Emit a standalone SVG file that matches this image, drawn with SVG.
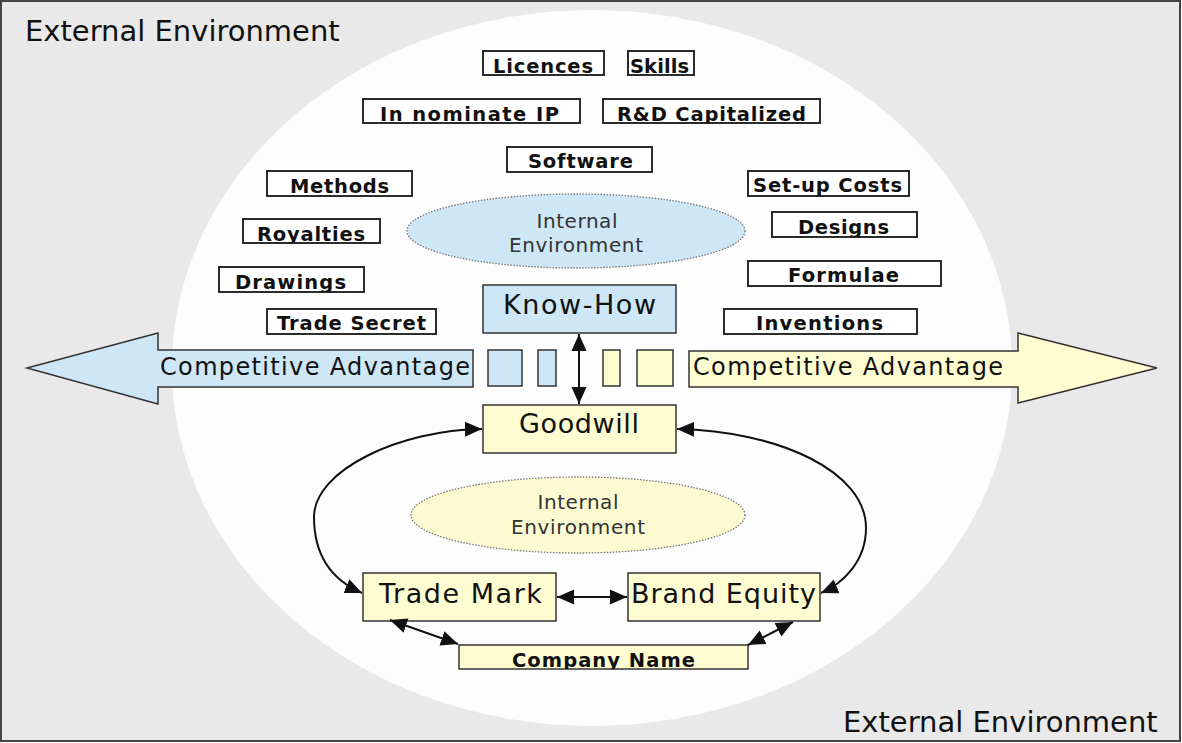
<svg xmlns="http://www.w3.org/2000/svg" width="1182" height="743" viewBox="0 0 1182 743">
<style>
.box{fill:#ffffff;stroke:#222;stroke-width:1.9}
.lbl{font-family:"DejaVu Sans",Verdana,sans-serif;font-weight:bold;font-size:19.5px;fill:#111}
.big{font-family:"DejaVu Sans",Verdana,sans-serif;font-size:27px;fill:#111}
.ext{font-family:"DejaVu Sans",Verdana,sans-serif;font-size:29px;fill:#111}
.int{font-family:"DejaVu Sans",Verdana,sans-serif;font-size:20px;fill:#333}
.ca{font-family:"DejaVu Sans",Verdana,sans-serif;font-size:24px;fill:#111}
.blue{fill:#cde7f7;stroke:#333;stroke-width:1.5}
.yel{fill:#fefdd2;stroke:#333;stroke-width:1.5}
.oval{stroke:#777;stroke-width:1.3;stroke-dasharray:1.5 1.5}
.con{fill:none;stroke:#111;stroke-width:2}
</style>
<defs>
<marker id="ah" markerUnits="userSpaceOnUse" markerWidth="18" markerHeight="16" refX="17" refY="8" orient="auto-start-reverse" viewBox="0 0 18 16">
<path d="M0,0.5 L17,8 L0,15.5 z" fill="#111"/>
</marker>
<clipPath id="boxclip">
<rect x="483" y="51" width="121" height="24"/>
<rect x="628" y="51" width="66" height="24"/>
<rect x="363" y="99" width="217" height="24"/>
<rect x="603" y="99" width="217" height="24"/>
<rect x="507" y="147" width="145" height="25"/>
<rect x="267" y="171" width="145" height="25"/>
<rect x="243" y="219" width="137" height="24"/>
<rect x="219" y="267" width="145" height="25"/>
<rect x="267" y="309" width="169" height="25"/>
<rect x="748" y="171" width="161" height="25"/>
<rect x="772" y="212" width="145" height="25"/>
<rect x="748" y="261" width="193" height="25"/>
<rect x="724" y="309" width="193" height="25"/>
<rect x="459" y="645" width="289" height="24"/>
</clipPath>
</defs>

<g id="background">
<rect x="1" y="1" width="1179" height="740" fill="#e9e9e9" stroke="#444" stroke-width="2"/>
<ellipse cx="592" cy="368" rx="420" ry="358" fill="#fdfdfd"/>
<text class="ext" x="25" y="41">External Environment</text>
<text class="ext" x="843" y="732">External Environment</text>
</g>

<g id="ovals">
<g id="internal-top">
<ellipse class="oval" cx="576" cy="231" rx="169" ry="37" fill="#cde7f7"/>
<text class="int" x="577" y="228" text-anchor="middle" textLength="81">Internal</text>
<text class="int" x="576" y="252" text-anchor="middle" textLength="134">Environment</text>
</g>
<g id="internal-bottom">
<ellipse class="oval" cx="578" cy="515" rx="167" ry="38" fill="#fdfbd2"/>
<text class="int" x="578" y="509" text-anchor="middle" textLength="81">Internal</text>
<text class="int" x="578" y="534" text-anchor="middle" textLength="134">Environment</text>
</g>
</g>

<g id="arrows-ca">
<g id="ca-left">
<polygon class="blue" points="27,368 158,333 158,350 473,350 473,387 158,387 158,404"/>
<text class="ca" x="160" y="375" textLength="310">Competitive Advantage</text>
</g>
<g id="ca-right">
<polygon class="yel" points="1157,368 1018,333 1018,351 689,351 689,387 1018,387 1018,403"/>
<text class="ca" x="693" y="375" textLength="310">Competitive Advantage</text>
</g>
<g id="squares">
<rect class="blue" x="488" y="350" width="34" height="36"/>
<rect class="blue" x="538" y="350" width="18" height="36"/>
<rect class="yel" x="603" y="350" width="17" height="36"/>
<rect class="yel" x="637" y="350" width="36" height="36"/>
</g>
</g>

<g id="items">
<g id="licences"><rect class="box" x="483" y="51" width="121" height="24"/><text class="lbl" x="493" y="73" textLength="100" clip-path="url(#boxclip)">Licences</text></g>
<g id="skills"><rect class="box" x="628" y="51" width="66" height="24"/><text class="lbl" x="630" y="73" textLength="59" clip-path="url(#boxclip)">Skills</text></g>
<g id="in-nominate-ip"><rect class="box" x="363" y="99" width="217" height="24"/><text class="lbl" x="380" y="121" textLength="179" clip-path="url(#boxclip)">In nominate IP</text></g>
<g id="rd-capitalized"><rect class="box" x="603" y="99" width="217" height="24"/><text class="lbl" x="617" y="121" textLength="189" clip-path="url(#boxclip)">R&amp;D Capitalized</text></g>
<g id="software"><rect class="box" x="507" y="147" width="145" height="25"/><text class="lbl" x="528" y="168" textLength="105" clip-path="url(#boxclip)">Software</text></g>
<g id="methods"><rect class="box" x="267" y="171" width="145" height="25"/><text class="lbl" x="290" y="193" textLength="99" clip-path="url(#boxclip)">Methods</text></g>
<g id="royalties"><rect class="box" x="243" y="219" width="137" height="24"/><text class="lbl" x="257" y="241" textLength="108" clip-path="url(#boxclip)">Royalties</text></g>
<g id="drawings"><rect class="box" x="219" y="267" width="145" height="25"/><text class="lbl" x="235" y="289" textLength="111" clip-path="url(#boxclip)">Drawings</text></g>
<g id="trade-secret"><rect class="box" x="267" y="309" width="169" height="25"/><text class="lbl" x="277" y="330" textLength="149" clip-path="url(#boxclip)">Trade Secret</text></g>
<g id="setup-costs"><rect class="box" x="748" y="171" width="161" height="25"/><text class="lbl" x="753" y="192" textLength="149" clip-path="url(#boxclip)">Set-up Costs</text></g>
<g id="designs"><rect class="box" x="772" y="212" width="145" height="25"/><text class="lbl" x="798" y="234" textLength="91" clip-path="url(#boxclip)">Designs</text></g>
<g id="formulae"><rect class="box" x="748" y="261" width="193" height="25"/><text class="lbl" x="788" y="282" textLength="111" clip-path="url(#boxclip)">Formulae</text></g>
<g id="inventions"><rect class="box" x="724" y="309" width="193" height="25"/><text class="lbl" x="756" y="330" textLength="127" clip-path="url(#boxclip)">Inventions</text></g>
</g>

<g id="know-how"><rect class="blue" x="483" y="285" width="193" height="48"/><text class="big" x="503" y="314" textLength="153">Know-How</text></g>
<g id="goodwill"><rect class="yel" x="483" y="405" width="193" height="48"/><text class="big" x="519" y="433" textLength="120">Goodwill</text></g>
<g id="trade-mark"><rect class="yel" x="363" y="573" width="193" height="48"/><text class="big" x="379" y="603" textLength="163">Trade Mark</text></g>
<g id="brand-equity"><rect class="yel" x="628" y="573" width="192" height="48"/><text class="big" x="631" y="603" textLength="185">Brand Equity</text></g>
<g id="company-name"><rect class="yel" x="459" y="645" width="289" height="24"/><text class="lbl" x="512" y="667" textLength="183" clip-path="url(#boxclip)">Company Name</text></g>

<g id="connectors">
<path class="con" d="M579,334 L579,404" marker-start="url(#ah)" marker-end="url(#ah)"/>
<path class="con" d="M482,429 C400,430 314,470 314,517 C314,555 332,580 362,593" marker-start="url(#ah)" marker-end="url(#ah)"/>
<path class="con" d="M677,429 C780,431 866,472 866,528 C866,562 842,584 821,593" marker-start="url(#ah)" marker-end="url(#ah)"/>
<path class="con" d="M557,597 L627,597" marker-start="url(#ah)" marker-end="url(#ah)"/>
<path class="con" d="M390,620 L458,644" marker-start="url(#ah)" marker-end="url(#ah)"/>
<path class="con" d="M793,622 L748,645" marker-start="url(#ah)" marker-end="url(#ah)"/>
</g>
</svg>
